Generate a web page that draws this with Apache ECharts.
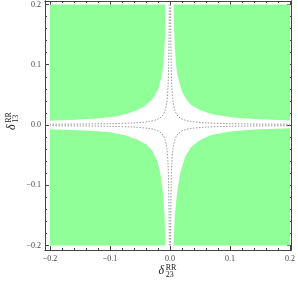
<!DOCTYPE html>
<html><head><meta charset="utf-8">
<script src="https://cdn.jsdelivr.net/npm/echarts@6/dist/echarts.min.js"></script>
<style>html,body{margin:0;padding:0;background:#fff;overflow:hidden}#c{width:298px;height:289px}</style>
</head><body><div id="c"></div>
<script>
// axis ticks
const majorTicks = [-0.2, -0.1, 0, 0.1, 0.2];
const minorTicks = [-0.18, -0.16, -0.14, -0.12, -0.08, -0.06, -0.04, -0.02, 0.02, 0.04, 0.06, 0.08, 0.12, 0.14, 0.16, 0.18];

// green region boundaries (one per quadrant)
const q1X = [0.0061, 0.0071, 0.008, 0.0104, 0.012, 0.016, 0.020, 0.028, 0.035, 0.050, 0.070, 0.105, 0.140, 0.180, 0.200];
const q1Y = [0.200, 0.153, 0.130, 0.097, 0.085, 0.069, 0.055, 0.0415, 0.033, 0.025, 0.018, 0.0125, 0.0100, 0.0083, 0.0075];
const q2X = [-0.0078, -0.008, -0.011, -0.014, -0.020, -0.030, -0.040, -0.051, -0.070, -0.090, -0.117, -0.160, -0.200];
const q2Y = [0.200, 0.150, 0.100, 0.080, 0.058, 0.042, 0.033, 0.026, 0.019, 0.014, 0.011, 0.0085, 0.0071];
const q3X = [-0.0078, -0.009, -0.012, -0.016, -0.021, -0.030, -0.040, -0.055, -0.075, -0.100, -0.140, -0.200];
const q3Y = [-0.200, -0.150, -0.110, -0.080, -0.060, -0.042, -0.032, -0.024, -0.017, -0.012, -0.009, -0.0071];
const q4X = [0.006, 0.008, 0.012, 0.017, 0.025, 0.035, 0.050, 0.070, 0.100, 0.140, 0.200];
const q4Y = [-0.200, -0.150, -0.110, -0.080, -0.053, -0.037, -0.025, -0.016, -0.011, -0.0075, -0.0055];

// dotted curves
const d1X = [0.0010, 0.0013, 0.0020, 0.0030, 0.0050, 0.0080, 0.0110, 0.0150, 0.0220, 0.0350, 0.0600, 0.1000, 0.1500, 0.2000];
const d1Y = [0.2000, 0.1500, 0.1000, 0.0650, 0.0400, 0.0250, 0.0180, 0.0130, 0.0090, 0.0058, 0.0035, 0.0022, 0.0015, 0.0012];
const d2X = [-0.0012, -0.0015, -0.0022, -0.0032, -0.0050, -0.0080, -0.0110, -0.0150, -0.0220, -0.0350, -0.0600, -0.1000, -0.1500, -0.2000];
const d2Y = [0.2000, 0.1500, 0.1000, 0.0650, 0.0400, 0.0250, 0.0180, 0.0130, 0.0090, 0.0058, 0.0035, 0.0022, 0.0016, 0.0013];
const d3X = [-0.0012, -0.0015, -0.0022, -0.0032, -0.0050, -0.0080, -0.0110, -0.0150, -0.0220, -0.0350, -0.0600, -0.1000, -0.1500, -0.2000];
const d3Y = [-0.2000, -0.1500, -0.1000, -0.0650, -0.0400, -0.0250, -0.0180, -0.0130, -0.0090, -0.0058, -0.0035, -0.0022, -0.0016, -0.0013];
const d4X = [0.0010, 0.0013, 0.0020, 0.0030, 0.0050, 0.0080, 0.0110, 0.0150, 0.0220, 0.0350, 0.0600, 0.1000, 0.1500, 0.2000];
const d4Y = [-0.2000, -0.1500, -0.1000, -0.0650, -0.0400, -0.0250, -0.0180, -0.0130, -0.0090, -0.0058, -0.0035, -0.0022, -0.0015, -0.0012];

const xMin = -0.2083, xMax = 0.2017, yMin = -0.2075, yMax = 0.2058;
const frameColor = '#444';
const labelFont = 'Liberation Serif';

function fmt(v) {
  const s = Math.abs(v).toFixed(1);
  return v < -1e-9 ? '\u2212' + s : s;
}
function xAx(position, ticks, len, labels) {
  return {
    type: 'value', position: position, min: xMin, max: xMax, gridIndex: 0,
    axisLine: { show: true, onZero: false, lineStyle: { color: frameColor, width: 1 } },
    axisTick: { show: true, inside: true, length: len, customValues: ticks, lineStyle: { color: frameColor, width: 1 } },
    axisLabel: labels ? { show: true, customValues: majorTicks, formatter: fmt, fontFamily: labelFont, fontSize: 8, color: '#444', margin: 5 } : { show: false },
    splitLine: { show: false }
  };
}
function yAx(position, ticks, len, labels) {
  return {
    type: 'value', position: position, min: yMin, max: yMax, gridIndex: 0,
    axisLine: { show: true, onZero: false, lineStyle: { color: frameColor, width: 1 } },
    axisTick: { show: true, inside: true, length: len, customValues: ticks, lineStyle: { color: frameColor, width: 1 } },
    axisLabel: labels ? { show: true, customValues: majorTicks, formatter: fmt, fontFamily: labelFont, fontSize: 8, color: '#444', margin: 4 } : { show: false },
    splitLine: { show: false }
  };
}

const regions = [[q1X, q1Y, [0.2, 0.2]], [q2X, q2Y, [-0.2, 0.2]], [q3X, q3Y, [-0.2, -0.2]], [q4X, q4Y, [0.2, -0.2]]];
const dotted = [[d1X, d1Y], [d2X, d2Y], [d3X, d3Y], [d4X, d4Y]];

const series = [{
  type: 'custom', xAxisIndex: 0, yAxisIndex: 0, silent: true,
  data: regions.map((r, i) => [i]),
  renderItem: function (params, api) {
    const r = regions[api.value(0)];
    const pts = r[0].map((x, k) => api.coord([x, r[1][k]]));
    pts.push(api.coord(r[2]));
    return { type: 'polygon', shape: { points: pts }, style: { fill: '#90ff98', stroke: null } };
  }
}];
dotted.forEach(d => {
  series.push({
    type: 'line', xAxisIndex: 0, yAxisIndex: 0, silent: true, symbol: 'none', smooth: 0.3,
    data: d[0].map((x, k) => [x, d[1][k]]),
    lineStyle: { color: '#999', width: 1, type: [1.5, 1.5] }
  });
});

const chart = echarts.init(document.getElementById('c'), null, { renderer: 'canvas' });
chart.setOption({
  animation: false,
  backgroundColor: '#fff',
  grid: { left: 45, right: 5, top: 1, bottom: 39, containLabel: false },
  xAxis: [xAx('bottom', majorTicks, 4, true), xAx('bottom', minorTicks, 2, false), xAx('top', majorTicks, 4, false), xAx('top', minorTicks, 2, false)],
  yAxis: [yAx('left', majorTicks, 4, true), yAx('left', minorTicks, 2, false), yAx('right', majorTicks, 4, false), yAx('right', minorTicks, 2, false)],
  series: series,
  graphic: [
    { type: 'group', x: 162.5, y: 270.5, silent: true, children: [
      { type: 'text', x: -4, y: 0, style: { text: 'δ', font: 'italic 12px "Liberation Serif"', fill: '#222', verticalAlign: 'middle', align: 'left' } },
      { type: 'text', x: 3.2, y: -2.8, style: { text: 'RR', font: '8px "Liberation Serif"', fill: '#222', verticalAlign: 'middle', align: 'left' } },
      { type: 'text', x: 3.2, y: 4.2, style: { text: '23', font: '8px "Liberation Serif"', fill: '#222', verticalAlign: 'middle', align: 'left' } }
    ]},
    { type: 'group', x: 11.5, y: 126, rotation: Math.PI / 2, silent: true, children: [
      { type: 'text', x: -4, y: 0, style: { text: 'δ', font: 'italic 12px "Liberation Serif"', fill: '#222', verticalAlign: 'middle', align: 'left' } },
      { type: 'text', x: 3.2, y: -2.8, style: { text: 'RR', font: '8px "Liberation Serif"', fill: '#222', verticalAlign: 'middle', align: 'left' } },
      { type: 'text', x: 3.2, y: 4.2, style: { text: '13', font: '8px "Liberation Serif"', fill: '#222', verticalAlign: 'middle', align: 'left' } }
    ]}
  ]
});
</script></body></html>
